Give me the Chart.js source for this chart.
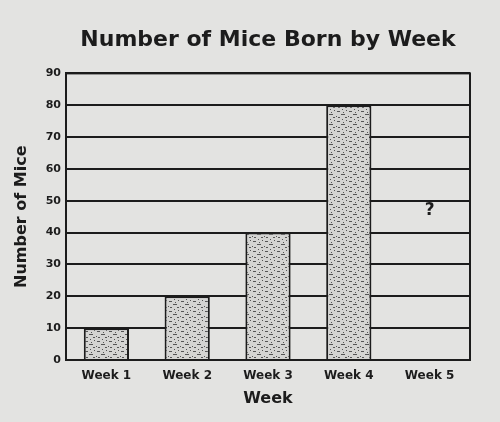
<!DOCTYPE html>
<html lang="en">
<head>
  <meta charset="utf-8">
  <title>Number of Mice Born by Week</title>
  <script src="https://cdn.jsdelivr.net/npm/chart.js"></script>
  <style>
    html, body {
      margin: 0;
      padding: 0;
      background: #e3e3e1;
    }
    #wrap {
      width: 500px;
      height: 422px;
    }
  </style>
</head>
<body>
  <div id="wrap"><canvas id="miceChart"></canvas></div>

  <script>
    // chart data
    const weeks = ['Week 1', 'Week 2', 'Week 3', 'Week 4', 'Week 5'];
    const miceBorn = [10, 20, 40, 80, null];
    const unknownMarks = ['', '', '', '', '?'];
    const unknownAt = 47;
    const yTicks = [0, 10, 20, 30, 40, 50, 60, 70, 80, 90];

    const ink = '#1c1c1c';
    const heavy = '"DejaVu Sans", Verdana, sans-serif';

    // speckled grey fill like the printed bars
    function speckle() {
      const c = document.createElement('canvas');
      c.width = 12;
      c.height = 10;
      const g = c.getContext('2d');
      g.fillStyle = '#d4d4d2';
      g.fillRect(0, 0, 12, 10);
      g.fillStyle = '#555555';
      g.fillRect(1, 1, 3, 1);
      g.fillRect(7, 2, 1, 1);
      g.fillRect(5, 4, 4, 1);
      g.fillRect(0, 6, 1, 1);
      g.fillRect(2, 7, 2, 1);
      g.fillRect(9, 7, 2, 1);
      g.fillRect(6, 9, 1, 1);
      g.fillRect(10, 0, 1, 1);
      return g.createPattern(c, 'repeat');
    }

    // plot frame + the "?" for week 5
    const framePlugin = {
      id: 'frame',
      afterDraw(chart) {
        const { ctx, chartArea: a, scales } = chart;
        ctx.save();
        ctx.strokeStyle = ink;
        ctx.lineWidth = 2;
        ctx.strokeRect(a.left, a.top, a.right - a.left, a.bottom - a.top);
        ctx.fillStyle = ink;
        ctx.font = 'bold 17px ' + heavy;
        ctx.textAlign = 'center';
        ctx.textBaseline = 'middle';
        unknownMarks.forEach((m, i) => {
          if (!m) return;
          ctx.fillText(m, scales.x.getPixelForValue(i), scales.y.getPixelForValue(unknownAt));
        });
        ctx.restore();
      }
    };

    const ctx = document.getElementById('miceChart').getContext('2d');
    new Chart(ctx, {
      type: 'bar',
      data: {
        labels: weeks,
        datasets: [{
          data: miceBorn,
          backgroundColor: speckle(),
          borderColor: ink,
          borderWidth: 2,
          barPercentage: 0.56,
          categoryPercentage: 1.0
        }]
      },
      options: {
        responsive: true,
        maintainAspectRatio: false,
        animation: false,
        layout: { padding: { left: 0, right: 30, top: 0, bottom: 14 } },
        plugins: {
          legend: { display: false },
          tooltip: { enabled: false },
          title: {
            display: true,
            text: 'Number of Mice Born by Week',
            color: ink,
            fullSize: false,
            font: { family: heavy, size: 22, weight: 'bold' },
            padding: { top: 27, bottom: 20 }
          }
        },
        scales: {
          x: {
            grid: { display: false },
            border: { color: ink, width: 2 },
            ticks: {
              color: ink,
              padding: 1,
              font: { family: heavy, size: 12, weight: 'bold' }
            },
            title: {
              display: true,
              text: 'Week',
              color: ink,
              padding: { top: 0, bottom: 0 },
              font: { family: heavy, size: 16, weight: 'bold' }
            },
            afterFit(s) { s.height = 48; }
          },
          y: {
            min: 0,
            max: 90,
            afterBuildTicks(s) { s.ticks = yTicks.map(v => ({ value: v })); },
            grid: { color: ink, lineWidth: 2, drawTicks: false },
            border: { color: ink, width: 2 },
            ticks: {
              color: ink,
              padding: 5,
              font: { family: heavy, size: 11, weight: 'bold' }
            },
            title: {
              display: true,
              text: 'Number of Mice',
              color: ink,
              padding: { top: 12, bottom: 0 },
              font: { family: heavy, size: 16, weight: 'bold' }
            },
            afterFit(s) { s.width = 66; }
          }
        }
      },
      plugins: [framePlugin]
    });
  </script>
</body>
</html>
